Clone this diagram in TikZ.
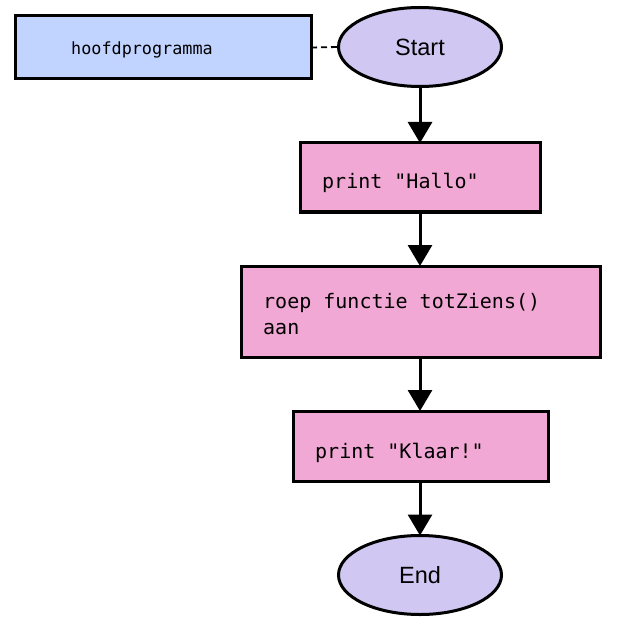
\documentclass[tikz,border=0pt]{standalone}
\usepackage{fontspec}
\setmainfont{Liberation Sans}
\newfontfamily\codefont{DejaVu Sans Mono}
\usetikzlibrary{shapes.geometric,arrows.meta}
\definecolor{bluefill}{RGB}{193,212,255}
\definecolor{pinkfill}{RGB}{242,168,212}
\definecolor{lavfill}{RGB}{208,200,242}
\tikzset{
  procbox/.style={draw=black, line width=3pt, fill=pinkfill, rectangle, inner sep=0pt, outer sep=0pt},
  labelbox/.style={draw=black, line width=3pt, fill=bluefill, rectangle, inner sep=0pt, outer sep=0pt},
  terminal/.style={draw=black, line width=3pt, fill=lavfill, ellipse, inner sep=0pt, outer sep=0pt},
  codetext/.style={anchor=base west, inner sep=0pt, font=\codefont\fontsize{20}{24}\selectfont},
  termtext/.style={anchor=base, inner sep=0pt, font=\fontsize{23.5}{28}\selectfont},
  flow/.style={line width=3pt, -{Triangle[width=24pt,length=21pt]}},
}
\begin{document}
\begin{tikzpicture}[x=1pt,y=-1pt]
\useasboundingbox (0,0) rectangle (621,628);
\node[labelbox, minimum width=296pt, minimum height=63pt] (hoofd) at (163,47.5) {};
\node[anchor=base west, inner sep=0pt, font=\codefont\fontsize{16.8}{20}\selectfont] (hoofdtxt) at (71,55) {hoofdprogramma};
\node[terminal, minimum width=163pt, minimum height=79pt] (start) at (420,47) {};
\node[termtext] (starttxt) at (420,55.5) {Start};
\node[procbox, minimum width=240pt, minimum height=69pt] (hallo) at (420,177.5) {};
\node[codetext] (hallotxt) at (322,189) {print "Hallo"};
\node[procbox, minimum width=359pt, minimum height=91pt] (roep) at (420.5,311.5) {};
\node[codetext] (roeptxt1) at (263,308) {roep functie totZiens()};
\node[codetext] (roeptxt2) at (263,334) {aan};
\node[procbox, minimum width=255pt, minimum height=70pt] (klaar) at (420.5,446) {};
\node[codetext] (klaartxt) at (315,458) {print "Klaar!"};
\node[terminal, minimum width=163pt, minimum height=79pt] (end) at (420,575) {};
\node[termtext] (endtxt) at (420,583.5) {End};
\draw[line width=1.8pt, dash pattern=on 6pt off 4pt] (hoofd.east) -- (start.west);
\draw[flow] (start.south) -- (hallo.north);
\draw[flow] (hallo.south) -- (roep.north -| hallo.south);
\draw[flow] (roep.south -| start.south) -- (klaar.north -| start.south);
\draw[flow] (klaar.south -| start.south) -- (end.north);
\end{tikzpicture}
\end{document}
